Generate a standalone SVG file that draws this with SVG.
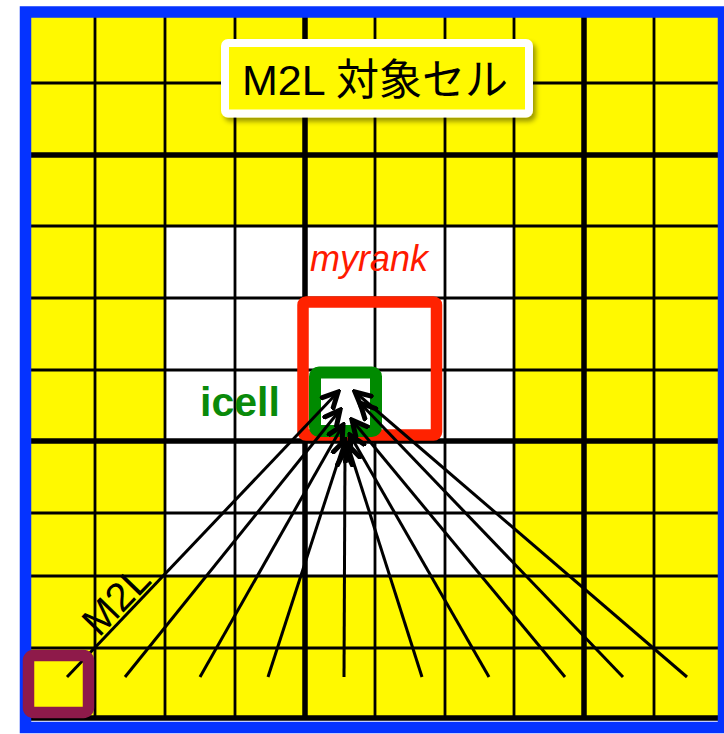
<svg xmlns="http://www.w3.org/2000/svg" width="724" height="734" viewBox="0 0 724 734">
<defs>
<style>
.thin{stroke:#000;stroke-width:2.8;fill:none}
.thick{stroke:#000;stroke-width:5.5;fill:none}
.conn{stroke:#000;stroke-width:3;fill:none;marker-end:url(#arr)}
.lbl{font-family:"Liberation Sans",Arial,"Noto Sans CJK JP",sans-serif}
</style>
<marker id="arr" viewBox="0 0 20 20" refX="17" refY="10" markerWidth="20" markerHeight="20" markerUnits="userSpaceOnUse" orient="auto">
<path d="M2,2.5 L17,10 L2,17.5" fill="none" stroke="#000" stroke-width="5" stroke-linejoin="miter" stroke-linecap="round"/>
</marker>
<filter id="sh" x="-10%" y="-20%" width="130%" height="150%">
<feDropShadow dx="3" dy="4" stdDeviation="2.5" flood-color="#000" flood-opacity="0.4"/>
</filter>
</defs>
<g id="grid">
<rect x="25" y="12" width="695" height="708" fill="#fff900"/>
<rect x="165" y="226" width="349" height="350" fill="#fff"/>
<g class="thin">
<line x1="95" y1="12" x2="95" y2="720"/>
<line x1="165" y1="12" x2="165" y2="720"/>
<line x1="235" y1="12" x2="235" y2="720"/>
<line x1="375" y1="12" x2="375" y2="720"/>
<line x1="445" y1="12" x2="445" y2="720"/>
<line x1="514" y1="12" x2="514" y2="720"/>
<line x1="654" y1="12" x2="654" y2="720"/>
<line x1="25" y1="83" x2="720" y2="83"/>
<line x1="25" y1="226" x2="720" y2="226"/>
<line x1="25" y1="298" x2="720" y2="298"/>
<line x1="25" y1="370" x2="720" y2="370"/>
<line x1="25" y1="513" x2="720" y2="513"/>
<line x1="25" y1="576" x2="720" y2="576"/>
<line x1="25" y1="648" x2="720" y2="648"/>
</g>
<g class="thick">
<line x1="305" y1="12" x2="305" y2="720"/>
<line x1="584" y1="12" x2="584" y2="720"/>
<line x1="25" y1="155" x2="720" y2="155"/>
<line x1="25" y1="441" x2="720" y2="441"/>
<line x1="25" y1="718" x2="720" y2="718"/>
</g>
<rect x="25.5" y="12" width="698" height="715.5" fill="none" stroke="#0533ff" stroke-width="11.5"/>
</g>
<g id="myrank">
<rect x="303" y="302" width="133.5" height="133" rx="3" fill="none" stroke="#ff2200" stroke-width="11.5"/>
<text class="lbl" x="310" y="271" font-size="36" font-style="italic" fill="#ff1a00">myrank</text>
</g>
<g id="icell">
<rect x="315" y="372.5" width="61" height="58.5" rx="4" fill="none" stroke="#008a00" stroke-width="12"/>
<text class="lbl" x="200" y="416" font-size="41" font-weight="bold" fill="#0a8a0a">icell</text>
</g>
<g id="title">
<rect x="225" y="43" width="304" height="70.5" rx="3" fill="#fff900" stroke="#fff" stroke-width="8" filter="url(#sh)"/>
<text class="lbl" x="375" y="95" font-size="43" text-anchor="middle" fill="#000">M2L 対象セル</text>
</g>
<g id="connectors">
<line class="conn" x1="67" y1="677" x2="338" y2="392"/>
<line class="conn" x1="125" y1="677" x2="340" y2="410"/>
<line class="conn" x1="200" y1="677" x2="343" y2="425"/>
<line class="conn" x1="268" y1="677" x2="345" y2="440"/>
<line class="conn" x1="344" y1="677" x2="345" y2="450"/>
<line class="conn" x1="422" y1="677" x2="348" y2="445"/>
<line class="conn" x1="489" y1="677" x2="350" y2="435"/>
<line class="conn" x1="565" y1="677" x2="352" y2="420"/>
<line class="conn" x1="623" y1="677" x2="360" y2="403"/>
<line class="conn" x1="687" y1="677" x2="355" y2="392"/>
<text class="lbl" transform="translate(126,610) rotate(-46)" font-size="40" text-anchor="middle" fill="#000">M2L</text>
</g>
<g id="source">
<rect x="28.5" y="655.5" width="60" height="57" rx="5" fill="none" stroke="#8e1a4a" stroke-width="11.5"/>
</g>
</svg>
